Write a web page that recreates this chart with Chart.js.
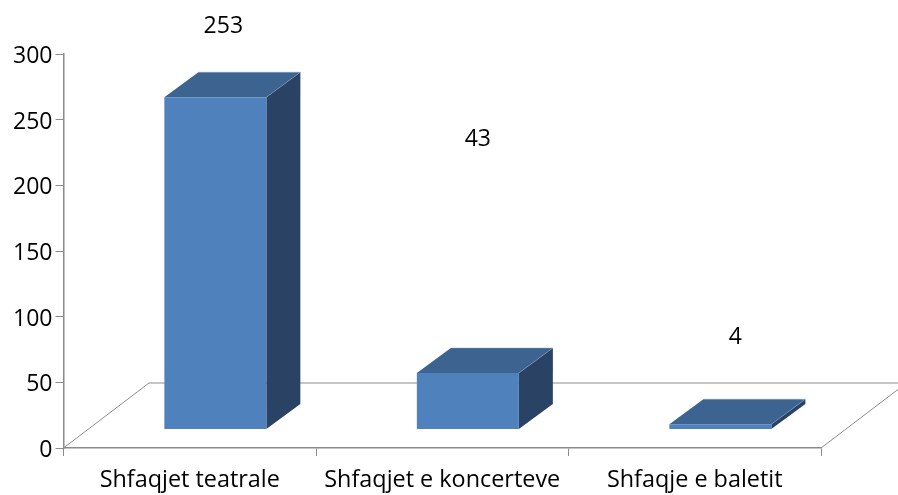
<!DOCTYPE html>
<html>
<head>
<meta charset="utf-8">
<style>html,body{margin:0;padding:0;background:#fff}canvas{display:block}</style>
<script src="https://cdn.jsdelivr.net/npm/chart.js@4"></script>
</head>
<body>
<canvas id="c" width="898" height="495"></canvas>
<script>
const categories = ["Shfaqjet teatrale", "Shfaqjet e koncerteve", "Shfaqje e baletit"];
const values = [253, 43, 4];
const yTicks = [0, 50, 100, 150, 200, 250, 300];

// 3D look (pixels)
const FLOOR_DX = 85.5, FLOOR_DY = -65;
const BAR_SHIFT_X = 25.6, BAR_SHIFT_Y = -18.5;
const BAR_DX = 34, BAR_DY = -25;
const LABEL_OFFSETS = [[8, -71], [10, -234], [15, -87]];
const Y_LABEL_NUDGE = 2.5;
const FONT = "'Open Sans', sans-serif";

const cube = {
  id: "cube",
  beforeDraw(chart) {
    if (chart.$nudged) return;
    chart.$nudged = true;
    chart.scales.y.getLabelItems().forEach((it) => { it.options.translation[1] += Y_LABEL_NUDGE; });
  },
  beforeDatasetsDraw(chart) {
    const { ctx, chartArea: a, width } = chart;
    // floor
    ctx.save();
    ctx.strokeStyle = "#8c8c8c";
    ctx.lineWidth = 1;
    ctx.beginPath();
    ctx.moveTo(a.left, a.bottom);
    ctx.lineTo(a.left + FLOOR_DX, a.bottom + FLOOR_DY);
    ctx.lineTo(width, a.bottom + FLOOR_DY);
    ctx.moveTo(a.right, a.bottom);
    ctx.lineTo(a.right + FLOOR_DX, a.bottom + FLOOR_DY);
    ctx.stroke();
    ctx.restore();

    ctx.save();
    ctx.translate(BAR_SHIFT_X, BAR_SHIFT_Y);
    chart.getDatasetMeta(0).data.forEach((bar) => {
      const l = bar.x - bar.width / 2, r = bar.x + bar.width / 2, t = bar.y, b = bar.base;
      ctx.fillStyle = "#2a4365";
      ctx.beginPath();
      ctx.moveTo(r, t); ctx.lineTo(r + BAR_DX, t + BAR_DY);
      ctx.lineTo(r + BAR_DX, b + BAR_DY); ctx.lineTo(r, b);
      ctx.closePath(); ctx.fill();
      ctx.fillStyle = "#3d6490";
      ctx.beginPath();
      ctx.moveTo(l, t); ctx.lineTo(l + BAR_DX, t + BAR_DY);
      ctx.lineTo(r + BAR_DX, t + BAR_DY); ctx.lineTo(r, t);
      ctx.closePath(); ctx.fill();
      ctx.strokeStyle = "rgba(130,160,200,0.55)";
      ctx.lineWidth = 0.8;
      ctx.beginPath();
      ctx.moveTo(l + BAR_DX, t + BAR_DY);
      ctx.lineTo(r + BAR_DX, t + BAR_DY);
      ctx.lineTo(r, t);
      ctx.stroke();
    });
  },
  afterDatasetsDraw(chart) {
    const { ctx } = chart;
    ctx.restore();
    ctx.save();
    ctx.fillStyle = "#000";
    ctx.font = "23px " + FONT;
    ctx.textAlign = "center";
    ctx.textBaseline = "middle";
    chart.getDatasetMeta(0).data.forEach((bar, i) => {
      ctx.fillText(String(values[i]),
        bar.x + BAR_SHIFT_X + LABEL_OFFSETS[i][0],
        bar.y + BAR_SHIFT_Y + LABEL_OFFSETS[i][1]);
    });
    ctx.restore();
  }
};

new Chart(document.getElementById("c"), {
  type: "bar",
  data: {
    labels: categories,
    datasets: [{ data: values, backgroundColor: "#4f81bd", borderWidth: 0, barPercentage: 0.404, categoryPercentage: 1, clip: false }]
  },
  options: {
    responsive: false,
    animation: false,
    layout: { padding: { top: 54, right: 77, left: 0, bottom: 0 } },
    plugins: { legend: { display: false }, tooltip: { enabled: false } },
    scales: {
      x: {
        afterFit(s) { s.height = 47; },
        border: { color: "#8c8c8c", width: 1.5 },
        grid: { drawOnChartArea: false, drawTicks: true, tickLength: 8, color: "#8c8c8c" },
        ticks: { color: "#000", font: { family: FONT, size: 23.4 }, padding: 10, maxRotation: 0, autoSkip: false }
      },
      y: {
        min: 0, max: 300,
        afterFit(s) { s.width = 63.5; },
        afterBuildTicks(s) { s.ticks = yTicks.map((v) => ({ value: v })); },
        border: { color: "#8c8c8c", width: 1.5 },
        grid: { drawOnChartArea: false, drawTicks: true, tickLength: 8, color: "#8c8c8c" },
        ticks: { color: "#000", font: { family: FONT, size: 23 }, padding: 3 }
      }
    }
  },
  plugins: [cube]
});
</script>
</body>
</html>
